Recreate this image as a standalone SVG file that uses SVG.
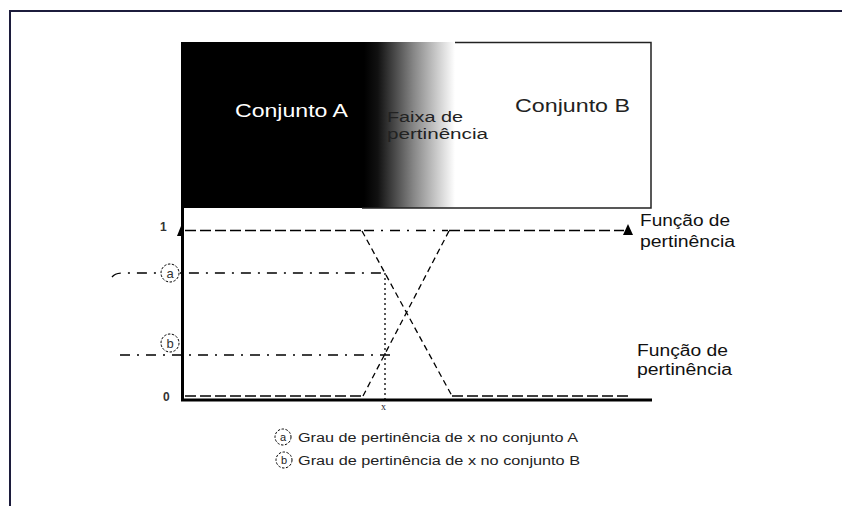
<svg xmlns="http://www.w3.org/2000/svg" width="842" height="506" viewBox="0 0 842 506">
  <style>
    .sans { font-family: "Liberation Sans", Arial, sans-serif; }
    .fn { fill: none; stroke: #000; stroke-width: 1.3; }
    .dash { stroke-dasharray: 11 4; }
    .slant { stroke-dasharray: 6 4; }
    .dashdot { stroke-dasharray: 10 7 2 7; }
    .dot { stroke-dasharray: 2 3; }
    .circ { fill: #fff; stroke: #000; stroke-width: 1; stroke-dasharray: 2.5 1.5; }
    .lbl { font-family: "Liberation Sans", Arial, sans-serif; font-size: 16px; fill: #111; }
    .tick { font-family: "Liberation Sans", Arial, sans-serif; font-size: 12px; font-weight: bold; fill: #333; }
  </style>
  <defs>
    <linearGradient id="fade" x1="0" y1="0" x2="1" y2="0">
      <stop offset="0" stop-color="#000"/>
      <stop offset="0.15" stop-color="#111"/>
      <stop offset="0.55" stop-color="#888"/>
      <stop offset="1" stop-color="#fff"/>
    </linearGradient>
  </defs>

  <rect width="842" height="506" fill="#fff"/>

  <g id="frame">
    <path d="M10,506 V11 H842" fill="none" stroke="#1c1c3c" stroke-width="2"/>
  </g>

  <g id="sets-box">
    <rect x="181" y="42" width="184" height="166" fill="#000"/>
    <rect x="364" y="42" width="91" height="166" fill="url(#fade)"/>
    <path d="M455,42.5 H651 V208 H362" fill="none" stroke="#222" stroke-width="1.5"/>
  </g>

  <g id="conjunto-a">
    <text class="sans" x="235" y="117" font-size="18" fill="#fff" textLength="113" lengthAdjust="spacingAndGlyphs">Conjunto A</text>
  </g>
  <g id="faixa">
    <text class="sans" x="387" y="122" font-size="14" fill="#222" textLength="76" lengthAdjust="spacingAndGlyphs">Faixa de</text>
    <text class="sans" x="387" y="139" font-size="14" fill="#222" textLength="101" lengthAdjust="spacingAndGlyphs">pertinência</text>
  </g>
  <g id="conjunto-b">
    <text class="sans" x="515" y="112" font-size="18" fill="#222" textLength="115" lengthAdjust="spacingAndGlyphs">Conjunto B</text>
  </g>

  <g id="axes">
    <line x1="182.5" y1="208" x2="182.5" y2="401" stroke="#000" stroke-width="3"/>
    <line x1="181" y1="400" x2="652" y2="400" stroke="#000" stroke-width="3"/>
    <polygon points="181,226 177,236 184,236" fill="#000"/>
    <text class="tick" x="160" y="231">1</text>
    <text class="tick" x="163" y="401">0</text>
    <text x="381" y="410" font-family="Liberation Serif, serif" font-size="10" fill="#223">x</text>
  </g>

  <g id="connectors">
    <polyline class="fn dash" points="185,230.5 362,230.5"/>
    <polyline class="fn slant" points="362,231 452,396"/>
    <polyline class="fn dash" points="452,396 630,396"/>
    <polyline class="fn dash" points="185,396 363,396"/>
    <polyline class="fn slant" points="363,396 449,231"/>
    <polyline class="fn dash" points="449,230.5 624,230.5"/>
    <polygon points="628,224 623,235 633,235" fill="#000"/>
    <line class="fn dashdot" x1="364" y1="230.5" x2="448" y2="230.5"/>
    <path class="fn dashdot" d="M112,277 Q115,273 122,273 H386"/>
    <line class="fn dashdot" x1="120" y1="355" x2="393" y2="355"/>
    <line class="fn dot" x1="385" y1="273" x2="385" y2="402"/>
  </g>

  <g id="marker-a">
    <circle class="circ" cx="170" cy="273" r="9"/>
    <text class="sans" x="170" y="277.5" font-size="13" text-anchor="middle" fill="#333">a</text>
  </g>
  <g id="marker-b">
    <circle class="circ" cx="170" cy="343" r="9"/>
    <text class="sans" x="170" y="347.5" font-size="13" text-anchor="middle" fill="#333">b</text>
  </g>

  <g id="label-fa">
    <text class="lbl" x="640" y="226" textLength="90" lengthAdjust="spacingAndGlyphs">Função de</text>
    <text class="lbl" x="640" y="247" textLength="95" lengthAdjust="spacingAndGlyphs">pertinência</text>
  </g>
  <g id="label-fb">
    <text class="lbl" x="637" y="356" textLength="91" lengthAdjust="spacingAndGlyphs">Função de</text>
    <text class="lbl" x="637" y="375" textLength="95" lengthAdjust="spacingAndGlyphs">pertinência</text>
  </g>

  <g id="legend">
    <circle class="circ" cx="283" cy="437" r="8"/>
    <text class="sans" x="283" y="440.5" font-size="11" text-anchor="middle" fill="#222">a</text>
    <text class="sans" x="298" y="442" font-size="12" fill="#222" textLength="280" lengthAdjust="spacingAndGlyphs">Grau de pertinência de x no conjunto A</text>
    <circle class="circ" cx="284" cy="460" r="8"/>
    <text class="sans" x="284" y="464" font-size="11" text-anchor="middle" fill="#222">b</text>
    <text class="sans" x="298" y="465" font-size="12" fill="#222" textLength="282" lengthAdjust="spacingAndGlyphs">Grau de pertinência de x no conjunto B</text>
  </g>
</svg>
